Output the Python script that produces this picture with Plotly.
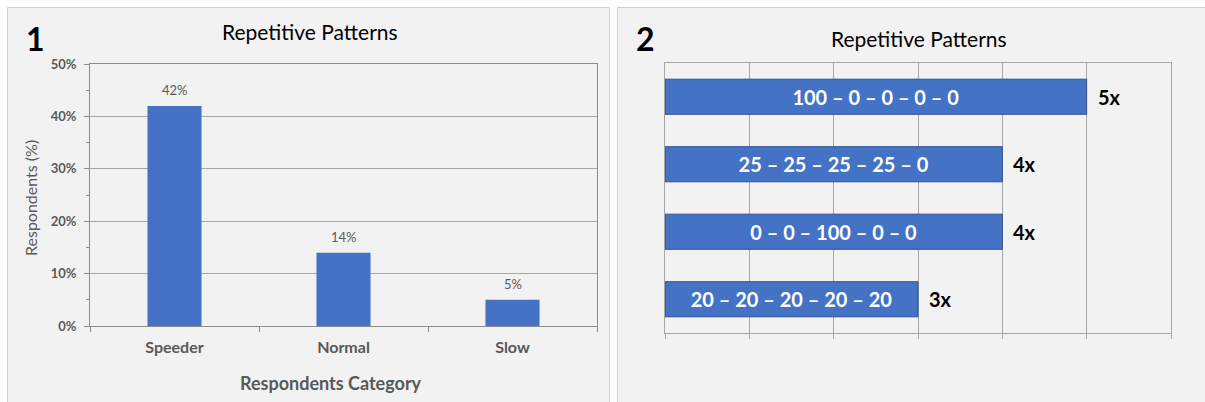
import plotly.graph_objects as go

# ---- data ----
categories = ["Speeder", "Normal", "Slow"]
respondents_pct = [42, 14, 5]
pct_labels = ["42%", "14%", "5%"]

patterns = ["100 – 0 – 0 – 0 – 0", "25 – 25 – 25 – 25 – 0",
            "0 – 0 – 100 – 0 – 0", "20 – 20 – 20 – 20 – 20"]
pattern_counts = [5, 4, 4, 3]
count_labels = ["5x", "4x", "4x", "3x"]

W, H = 1205, 402
FONT = "Lato, Open Sans, sans-serif"
BLUE = "#4472c4"
GRID = "#a6a6a6"
AXIS = "#8c8c8c"
GRAYTXT = "#595959"

def px(x):
    return x / W

def py(y):
    return 1 - y / H

fig = go.Figure()

fig.add_trace(go.Bar(
    x=categories, y=respondents_pct,
    marker=dict(color=BLUE, line=dict(width=0)),
    width=0.32, xaxis="x", yaxis="y", showlegend=False,
))

fig.add_trace(go.Bar(
    y=patterns, x=pattern_counts, orientation="h", text=patterns,
    textposition="inside", insidetextanchor="middle",
    textfont=dict(family=FONT, size=20, color="white", weight="bold"),
    marker=dict(color=BLUE, line=dict(color="#2f528f", width=1)),
    width=0.52, xaxis="x2", yaxis="y2", showlegend=False,
))

annotations = []
for cat, v, lab in zip(categories, respondents_pct, pct_labels):
    annotations.append(dict(
        x=cat, y=v, xref="x", yref="y", text=lab, showarrow=False,
        xanchor="center", yanchor="bottom", yshift=6,
        font=dict(family=FONT, size=13, color=GRAYTXT),
    ))
for p, c, lab in zip(patterns, pattern_counts, count_labels):
    annotations.append(dict(
        x=c, y=p, xref="x2", yref="y2", text=lab, showarrow=False,
        xanchor="left", yanchor="middle", xshift=9,
        font=dict(family=FONT, size=20, color="black", weight="bold"),
    ))

def note(x, y, text, size, color, bold=False, angle=0):
    return dict(x=px(x), y=py(y), xref="paper", yref="paper", text=text,
                showarrow=False, xanchor="center", yanchor="middle", textangle=angle,
                font=dict(family=FONT, size=size, color=color,
                          weight="bold" if bold else "normal"))

annotations += [
    note(35, 38, "1", 32, "black", True),
    note(645, 38, "2", 32, "black", True),
    note(310, 32, "Repetitive Patterns", 21, "black"),
    note(919, 38, "Repetitive Patterns", 21, "black"),
    note(30, 198, "Respondents (%)", 16, GRAYTXT, angle=-90),
    note(331, 383, "Respondents Category", 18, GRAYTXT, True),
]

shapes = [
    dict(type="rect", xref="paper", yref="paper", x0=px(7.5), x1=px(609.5),
         y0=py(410), y1=py(7.5), fillcolor="#f2f2f2", line=dict(color="#d0d0d0", width=1),
         layer="below"),
    dict(type="rect", xref="paper", yref="paper", x0=px(617.5), x1=px(1215),
         y0=py(410), y1=py(7.5), fillcolor="#f2f2f2", line=dict(color="#d0d0d0", width=1),
         layer="below"),
]

fig.update_layout(
    width=W, height=H, margin=dict(l=0, r=0, t=0, b=0, autoexpand=False),
    paper_bgcolor="white", plot_bgcolor="rgba(0,0,0,0)",
    font=dict(family=FONT),
    barmode="group",
    annotations=annotations, shapes=shapes,
    xaxis=dict(
        domain=[px(90), px(597)], anchor="y", automargin=False,
        showline=True, linecolor=AXIS, linewidth=1, mirror=True,
        ticks="outside", ticklen=5, tickcolor=AXIS, tickson="boundaries",
        ticklabelstandoff=7,
        tickfont=dict(family=FONT, size=16, color=GRAYTXT, weight="bold"),
        showgrid=False, fixedrange=True,
    ),
    yaxis=dict(
        domain=[py(326), py(64)], anchor="x", range=[0, 50], automargin=False,
        tickvals=[0, 10, 20, 30, 40, 50], ticktext=["0%", "10%", "20%", "30%", "40%", "50%"],
        showline=True, linecolor=AXIS, linewidth=1, mirror=True,
        ticks="outside", ticklen=5, tickcolor=AXIS, ticklabelstandoff=5,
        minor=dict(dtick=5, ticks="outside", ticklen=3, tickcolor=AXIS, showgrid=False),
        tickfont=dict(family=FONT, size=13, color=GRAYTXT, weight="bold"),
        showgrid=True, gridcolor=GRID, gridwidth=1, zeroline=False, fixedrange=True,
    ),
    xaxis2=dict(
        domain=[px(665), px(1171)], anchor="y2", range=[0, 6], dtick=1, automargin=False,
        showline=True, linecolor=GRID, linewidth=1, mirror=True,
        ticks="outside", ticklen=5, tickcolor=GRID, showticklabels=False,
        showgrid=True, gridcolor=GRID, gridwidth=1, zeroline=False, fixedrange=True,
    ),
    yaxis2=dict(
        domain=[py(333), py(63)], anchor="x2", autorange="reversed", automargin=False,
        showline=True, linecolor=GRID, linewidth=1, mirror=True,
        showticklabels=False, ticks="", showgrid=False, fixedrange=True,
    ),
)

fig.write_html("out.html")
